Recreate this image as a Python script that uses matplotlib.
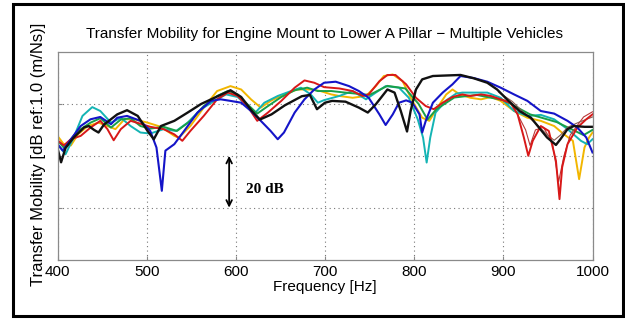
import matplotlib
matplotlib.use("Agg")
import matplotlib.pyplot as plt
from matplotlib.patches import Rectangle

plt.rcParams["font.family"] = ["Liberation Sans", "DejaVu Sans"]

# frequency [Hz] / level [dB] pairs, one list per vehicle
f_black = [400, 404, 409, 418, 430, 435, 441, 446, 452, 467, 478, 490, 501, 508, 516, 531, 546, 561,
           576, 594, 606, 618, 627, 640, 655, 674, 683, 691, 700, 708, 723, 738, 748, 757, 770, 778,
           785, 792, 796, 802, 809, 821, 836, 852, 867, 882, 893, 904, 918, 931, 940, 949, 959, 964,
           972, 979, 991, 1000]
db_black = [-57, -62.5, -57, -53, -49, -48.5, -50, -51, -48, -44, -42.4, -44.6, -50.4, -53.6, -48.5,
            -46.5, -43.3, -40, -37.6, -34.7, -37.3, -42.7, -46, -44, -40.5, -37, -36.5, -42, -39.5,
            -38.8, -39.1, -41.4, -43.3, -40.1, -34.4, -35.6, -42.7, -50.6, -42.7, -34.4, -30.5, -29.2,
            -29, -28.8, -30.1, -31.8, -34.4, -38.2, -42.7, -45.3, -49.1, -52.9, -55.8, -53.6, -49.7,
            -48.5, -48.8, -48.8]

f_blue = [400, 406, 415, 426, 437, 448, 460, 467, 478, 493, 504, 511, 517, 521, 531, 542, 557, 572,
          583, 594, 606, 617, 628, 639, 647, 654, 666, 677, 688, 699, 712, 727, 738, 749, 761, 768,
          776, 783, 791, 798, 806, 809, 813, 821, 832, 843, 852, 867, 882, 897, 912, 927, 942, 957,
          972, 983, 993, 1000]
db_blue = [-55.5, -58, -53.6, -48.5, -45.9, -45, -47.8, -45.3, -44.6, -46.5, -50.4, -56.8, -73.5, -58,
           -55.5, -50.4, -43.3, -38.8, -38.2, -38.8, -39.5, -42.7, -46.5, -50.4, -53.6, -51, -43.3,
           -38.2, -34.4, -31.8, -31.4, -33.1, -35, -37.6, -44, -48.1, -44, -39.5, -38.6, -39.5, -44,
           -51, -46.5, -39.5, -35.6, -32.4, -29.2, -30, -31.4, -33.7, -36.3, -38.8, -42.7, -43.7,
           -46.5, -49.1, -52.9, -58.7]

f_red = [400, 407, 415, 426, 437, 448, 456, 463, 471, 482, 493, 504, 519, 531, 540, 549, 564, 579,
         591, 602, 613, 624, 636, 651, 666, 677, 688, 699, 716, 731, 742, 749, 761, 770, 779, 791,
         802, 813, 822, 832, 843, 854, 863, 875, 886, 897, 908, 916, 923, 928, 933, 942, 951, 959,
         963, 966, 972, 983, 993, 1000]
db_red = [-54, -56, -53.6, -52.3, -49.1, -46.5, -49.7, -54, -49.7, -46.5, -47.6, -48.8, -49.7, -51.7,
          -54.2, -50.4, -44.6, -38.2, -35.6, -36.9, -40.8, -46.5, -43.3, -38.8, -33.7, -30.9, -31.8,
          -33.5, -34, -35, -36.9, -36.3, -31.2, -28.8, -28.8, -32.4, -37.6, -40.8, -42, -39.5, -37.3,
          -36.3, -36.9, -36.3, -36.9, -38.2, -39.5, -44, -52.9, -60, -54.2, -48.5, -50.4, -61.9,
          -76.7, -64.4, -55.5, -49.1, -45.9, -44]

f_yellow = [400, 407, 415, 423, 434, 446, 456, 465, 475, 486, 501, 516, 531, 536, 549, 564, 579, 594,
            606, 617, 628, 639, 654, 669, 684, 695, 707, 716, 731, 746, 757, 766, 776, 787, 798, 809,
            817, 826, 836, 843, 851, 863, 875, 886, 897, 912, 927, 942, 957, 968, 978, 985, 991, 996,
            1000]
db_yellow = [-52.3, -55.5, -56, -51.7, -48.5, -47.2, -48.5, -49.7, -45.9, -45.9, -47.2, -48.8, -52.3,
             -53, -48.5, -41.4, -35, -33.1, -34.4, -38.2, -41.4, -38.8, -36.3, -34.4, -34.4, -35,
             -36.3, -36.9, -37.6, -36.9, -33.1, -29.2, -28.6, -31.2, -38.8, -45.3, -46.5, -41.4,
             -36.3, -34.4, -36.3, -37.6, -38.2, -37.3, -38.8, -42.7, -45.3, -46.5, -48.5, -51.7,
             -54.2, -69, -56.8, -53, -51]

f_cyan = [400, 409, 418, 428, 439, 448, 460, 471, 482, 493, 504, 519, 533, 546, 561, 576, 589, 602,
          613, 622, 632, 647, 662, 673, 684, 692, 699, 716, 731, 746, 757, 768, 783, 794, 804, 810,
          814, 818, 824, 836, 847, 854, 867, 882, 897, 912, 927, 942, 957, 972, 987, 994, 1000]
db_cyan = [-55.5, -59.4, -53, -44.6, -41.2, -42.7, -47.2, -45.3, -48.5, -51, -51.4, -49.7, -50.4,
           -47.2, -42, -38.8, -36.3, -37.3, -40.8, -43.3, -39.5, -36.9, -35, -33.7, -36.3, -39.5,
           -38.5, -36.9, -35, -38.2, -35.6, -33.1, -33.7, -37.6, -45.9, -53, -62.6, -53, -43.3,
           -38.6, -36, -35.6, -35.6, -35.6, -37.6, -42.7, -44.6, -44.2, -45.9, -49.7, -54.2, -55.5,
           -53.6]

f_green = [400, 407, 423, 437, 448, 460, 471, 482, 493, 504, 519, 534, 549, 564, 579, 591, 602, 613,
           624, 636, 651, 666, 680, 692, 707, 720, 750, 770, 790, 805, 815, 825, 845, 870, 900, 930,
           960, 990, 1000]
db_green = [-54, -56.8, -50.4, -47.2, -45.5, -49.1, -46, -45.5, -48.5, -49.5, -48.8, -50.4, -46.5,
            -40.8, -36.9, -35, -36.3, -40.1, -43.7, -40.8, -37.3, -34.7, -33.7, -35, -35, -35.5,
            -36.5, -33, -34, -40, -46, -42, -37.5, -36.5, -38.5, -44, -47, -52, -50]

# thinner repeat runs near the top end of the band
f_red2 = [890, 910, 925, 930, 936, 945, 955, 962, 968, 975, 990, 1000]
db_red2 = [-37.5, -40, -50, -56, -50, -49, -55, -70, -60, -52, -45, -43]
f_brown = [895, 910, 925, 938, 948, 957, 964, 972, 985, 1000]
db_brown = [-35.5, -39, -44, -48, -51.5, -54, -52, -49, -47, -45]

series = [
    (f_yellow, db_yellow, "#f2b600", 1.4),
    (f_cyan, db_cyan, "#14b4b4", 1.4),
    (f_green, db_green, "#18a048", 1.4),
    (f_red2, db_red2, "#b83838", 0.8),
    (f_brown, db_brown, "#8a5a50", 0.8),
    (f_red, db_red, "#d81818", 1.4),
    (f_blue, db_blue, "#1414c8", 1.5),
    (f_black, db_black, "#111111", 1.7),
]

fig = plt.figure(figsize=(6.25, 3.2), dpi=100)
ax = fig.add_axes([0.092, 0.189, 0.856, 0.648])

for f, db, color, lw in series:
    ax.plot(f, db, color=color, linewidth=lw)

ax.set_xlim(400, 1000)
ax.set_ylim(-100, -20)
ax.set_xticks(range(400, 1001, 100))
ax.set_yticks([-80, -60, -40])
ax.set_yticklabels([])
ax.grid(True, linestyle=(0, (1, 3)), color="#777777", linewidth=0.8)
ax.tick_params(direction="in", length=3, pad=4, labelsize=11, colors="#888888",
               labelcolor="black")
for sp in ax.spines.values():
    sp.set_color("#8a8a8a")
    sp.set_linewidth(0.9)

ax.set_title("Transfer Mobility for Engine Mount to Lower A Pillar \u2212 Multiple Vehicles",
             fontsize=11, pad=10)
ax.set_xlabel("Frequency [Hz]", fontsize=11, labelpad=1)
ax.set_ylabel("Transfer Mobility [dB ref:1.0 (m/Ns)]", fontsize=12)
ax.yaxis.set_label_coords(-0.022, 0.506)

# 20 dB scale marker
ax.annotate("", xy=(592.5, -60), xytext=(592.5, -80),
            arrowprops=dict(arrowstyle="<->", color="black", lw=1.3, shrinkA=0, shrinkB=0))
ax.text(611, -73, "20 dB", fontsize=11, fontweight="bold", family="Liberation Serif",
        va="center", ha="left")

fig.patches.append(Rectangle((0.021, 0.012), 0.976, 0.974, transform=fig.transFigure,
                             fill=False, edgecolor="black", linewidth=2.2))

fig.savefig("out.png", dpi=100)
